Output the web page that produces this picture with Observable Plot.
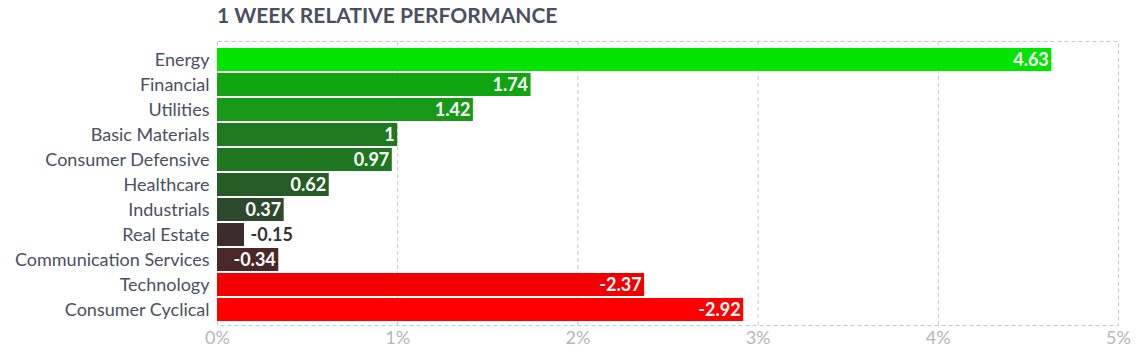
<!DOCTYPE html>
<html>
<head>
<meta charset="utf-8">
<script src="https://cdn.jsdelivr.net/npm/d3@7"></script>
<script src="https://cdn.jsdelivr.net/npm/@observablehq/plot@0.6"></script>
<style>
  html, body { margin: 0; padding: 0; background: #fff; }
  #title { height: 36px; box-sizing: border-box; padding-left: 217px; padding-top: 2px;
    font-family: Lato, sans-serif; font-weight: 700; font-size: 21px; line-height: 26px; color: #4a5060; }
  #chart svg { display: block; }
</style>
</head>
<body>
<div id="title">1 WEEK RELATIVE PERFORMANCE</div>
<div id="chart"></div>
<script>
const sectors = ["Energy", "Financial", "Utilities", "Basic Materials", "Consumer Defensive", "Healthcare", "Industrials", "Real Estate", "Communication Services", "Technology", "Consumer Cyclical"];
const values = [4.63, 1.74, 1.42, 1, 0.97, 0.62, 0.37, -0.15, -0.34, -2.37, -2.92];
const barColors = ["#00e400", "#11a611", "#179917", "#1f7a1f", "#1f771f", "#265b26", "#2d4a2d", "#3c2c2c", "#4a2828", "#f20000", "#ff0000"];
const xTicks = [0, 1, 2, 3, 4, 5];

const data = sectors.map((s, i) => ({sector: s, value: values[i], abs: Math.abs(values[i]), color: barColors[i]}));
const inside = data.filter(d => d.abs >= 0.25);
const outside = data.filter(d => d.abs < 0.25);

const chart = Plot.plot({
  width: 1141,
  height: 316,
  marginTop: 5,
  marginBottom: 27,
  marginLeft: 217,
  marginRight: 23,
  style: {fontFamily: "Lato, sans-serif", fontSize: "18px", background: "#fff"},
  x: {domain: [0, 5], ticks: xTicks, tickFormat: d => d + "%", label: null},
  y: {domain: sectors, label: null, paddingInner: 0.07, paddingOuter: 0, insetTop: 4, insetBottom: 1},
  color: {type: "identity"},
  marks: [
    Plot.gridX([1, 2, 3, 4], {stroke: "#c8c8cc", strokeOpacity: 1, strokeDasharray: "4,3"}),
    Plot.frame({stroke: "#c8c8cc", strokeDasharray: "4,3"}),
    Plot.barX(data, {x: "abs", y: "sector", fill: "color"}),
    Plot.axisY({tickSize: 0, tickPadding: 8, fill: "#4a5060", fontSize: 18}),
    Plot.axisX(xTicks, {tickSize: 0, tickPadding: 6, tickFormat: d => d + "%", fill: "#b5b5bd", fontSize: 18}),
    Plot.text(inside, {x: "abs", y: "sector", text: d => String(d.value), textAnchor: "end", dx: -3, fill: "#fff", fontWeight: "bold", fontSize: 18}),
    Plot.text(outside, {x: "abs", y: "sector", text: d => String(d.value), textAnchor: "start", dx: 6, fill: "#333", fontWeight: "bold", fontSize: 18})
  ]
});
document.getElementById("chart").appendChild(chart);
</script>
</body>
</html>
